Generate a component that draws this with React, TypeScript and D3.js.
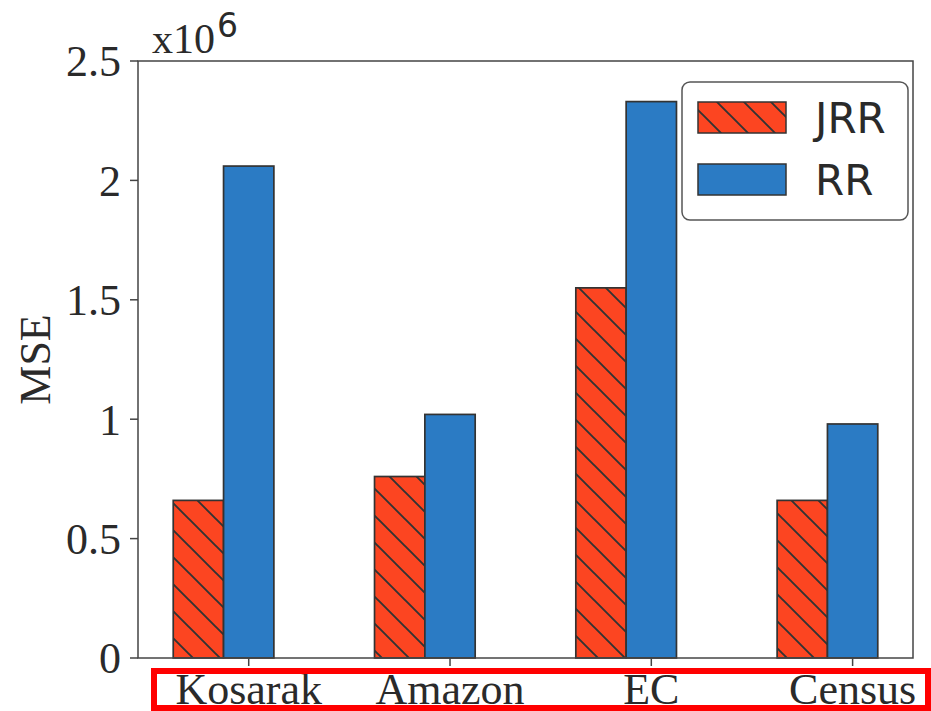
import React, { useEffect, useRef } from 'react';
import * as d3 from 'd3';

// Chart data (MSE values, raw units)
const categories = ['Kosarak', 'Amazon', 'EC', 'Census'];
const jrrValues = [660000, 760000, 1550000, 660000];
const rrValues = [2060000, 1020000, 2330000, 980000];
const yTickValues = [0, 500000, 1000000, 1500000, 2000000, 2500000];
const yTickLabels = ['0', '0.5', '1', '1.5', '2', '2.5'];
const seriesNames = ['JRR', 'RR'];

const WIDTH = 931;
const HEIGHT = 711;

const App = () => {
  const svgRef = useRef<SVGSVGElement>(null);

  useEffect(() => {
    const svg = d3.select(svgRef.current);
    svg.selectAll('*').remove();

    const left = 138, right = 913, top = 61, bottom = 658;
    const serif = '"Liberation Serif", "Times New Roman", serif';
    const sans = '"DejaVu Sans", sans-serif';
    const textColor = '#2a2a2a';
    const axisColor = '#444';
    const edge = '#333';
    const colors = { JRR: '#fc4521', RR: '#2b7bc4' };

    const xScale = d3.scaleLinear().domain([-0.3, 3.55]).range([left, right]);
    const yScale = d3.scaleLinear().domain([0, 2500000]).range([bottom, top]);
    const barW = 0.25;

    // hatch pattern for JRR ("\\" lines)
    const defs = svg.append('defs');
    const pat = defs.append('pattern')
      .attr('id', 'hatch')
      .attr('patternUnits', 'userSpaceOnUse')
      .attr('x', 0)
      .attr('y', 6)
      .attr('width', 27)
      .attr('height', 27);
    pat.append('rect').attr('width', 27).attr('height', 27).attr('fill', colors.JRR);
    pat.append('path')
      .attr('d', 'M-3,-3 L30,30 M-3,24 L3,30 M24,-3 L30,3')
      .attr('stroke', edge)
      .attr('stroke-width', 1.9);

    // bars
    const g = svg.append('g');
    categories.forEach((c, i) => {
      g.append('rect')
        .attr('x', xScale(i - barW / 2))
        .attr('y', yScale(jrrValues[i]))
        .attr('width', xScale(barW) - xScale(0))
        .attr('height', yScale(0) - yScale(jrrValues[i]))
        .attr('fill', 'url(#hatch)')
        .attr('stroke', edge)
        .attr('stroke-width', 1.7);
      g.append('rect')
        .attr('x', xScale(i + barW / 2))
        .attr('y', yScale(rrValues[i]))
        .attr('width', xScale(barW) - xScale(0))
        .attr('height', yScale(0) - yScale(rrValues[i]))
        .attr('fill', colors.RR)
        .attr('stroke', edge)
        .attr('stroke-width', 1.7);
    });

    // frame
    svg.append('rect')
      .attr('x', left).attr('y', top)
      .attr('width', right - left).attr('height', bottom - top)
      .attr('fill', 'none')
      .attr('stroke', axisColor)
      .attr('stroke-width', 1.5);

    // y ticks
    yTickValues.forEach((v, i) => {
      svg.append('line')
        .attr('x1', left - 8).attr('x2', left)
        .attr('y1', yScale(v)).attr('y2', yScale(v))
        .attr('stroke', axisColor).attr('stroke-width', 1.5);
      svg.append('text')
        .attr('x', left - 17)
        .attr('y', yScale(v))
        .attr('dy', '0.35em')
        .attr('text-anchor', 'end')
        .attr('font-family', serif)
        .attr('font-size', 44)
        .attr('fill', textColor)
        .text(yTickLabels[i]);
    });

    // x ticks
    categories.forEach((c, i) => {
      const x = xScale(i + barW);
      svg.append('line')
        .attr('x1', x).attr('x2', x)
        .attr('y1', bottom).attr('y2', bottom + 8)
        .attr('stroke', axisColor).attr('stroke-width', 1.5);
      svg.append('text')
        .attr('x', x)
        .attr('y', 704)
        .attr('text-anchor', 'middle')
        .attr('font-family', serif)
        .attr('font-size', 44)
        .attr('fill', textColor)
        .text(c);
    });

    // y label
    svg.append('text')
      .attr('transform', `translate(50, ${(top + bottom) / 2}) rotate(-90)`)
      .attr('text-anchor', 'middle')
      .attr('font-family', serif)
      .attr('font-size', 44)
      .attr('fill', textColor)
      .text('MSE');

    // offset text x10^6
    const off = svg.append('text')
      .attr('x', 152)
      .attr('y', 53)
      .attr('font-family', serif)
      .attr('font-size', 42)
      .attr('fill', textColor);
    off.append('tspan').text('x10');
    off.append('tspan')
      .attr('dy', -16)
      .attr('dx', 2)
      .attr('font-family', sans)
      .attr('font-size', 33)
      .text('6');

    // legend
    const lg = svg.append('g');
    lg.append('rect')
      .attr('x', 682).attr('y', 82)
      .attr('width', 226).attr('height', 138)
      .attr('rx', 8)
      .attr('fill', 'white')
      .attr('fill-opacity', 0.9)
      .attr('stroke', '#555')
      .attr('stroke-width', 1.5);
    seriesNames.forEach((s, i) => {
      const yy = 102 + i * 62;
      lg.append('rect')
        .attr('x', 698).attr('y', yy)
        .attr('width', 88).attr('height', 31)
        .attr('fill', s === 'JRR' ? 'url(#hatch)' : colors.RR)
        .attr('stroke', edge)
        .attr('stroke-width', 1.5);
      lg.append('text')
        .attr('x', 815)
        .attr('y', yy + 15.5)
        .attr('dy', '0.36em')
        .attr('font-family', sans)
        .attr('font-size', 42)
        .attr('fill', textColor)
        .text(s);
    });

    // red highlight box around x labels
    svg.append('rect')
      .attr('x', 154).attr('y', 671)
      .attr('width', 774).attr('height', 37)
      .attr('fill', 'none')
      .attr('stroke', '#ff0000')
      .attr('stroke-width', 6);
  }, []);

  return (
    <svg
      ref={svgRef}
      width={WIDTH}
      height={HEIGHT}
      style={{ position: 'absolute', left: 0, top: 0, background: 'white' }}
    />
  );
};

export default App;
